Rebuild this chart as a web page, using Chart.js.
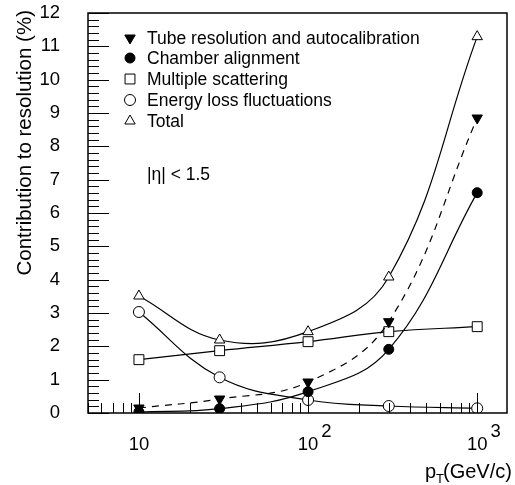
<!DOCTYPE html>
<html>
<head>
<meta charset="utf-8">
<script src="https://cdn.jsdelivr.net/npm/chart.js@4.4.1/dist/chart.umd.min.js"></script>
<style>
  html, body { margin: 0; padding: 0; background: #fff; }
</style>
</head>
<body>
<canvas id="resolution-chart" width="515" height="485"></canvas>
<script>
// DATA
const ptValues = [10, 30, 100, 300, 1000];
const tubeResolution = [0.15, 0.42, 0.93, 2.74, 8.85];
const chamberAlignment = [0.03, 0.13, 0.64, 1.91, 6.61];
const multipleScattering = [1.6, 1.87, 2.14, 2.44, 2.59];
const energyLoss = [3.03, 1.07, 0.39, 0.21, 0.14];
const totalResolution = [3.51, 2.19, 2.44, 4.08, 11.29];

const yTickValues = [0, 1, 2, 3, 4, 5, 6, 7, 8, 9, 10, 11, 12];
const xTickValues = [10, 100, 1000];
const xTickBase = ['10', '10', '10'];
const xTickExp = ['', '2', '3'];

const FONT = "'Liberation Sans', Arial, Helvetica, sans-serif";

const pts = (ys) => ptValues.map((x, i) => ({ x: x, y: ys[i] }));

function series(label, ys, style, filled, rotation, radius, dashed) {
  return {
    label: label,
    data: pts(ys),
    borderColor: '#000',
    borderWidth: 1.2,
    borderDash: dashed ? [7, 6] : [],
    tension: 0.4,
    fill: false,
    pointStyle: style,
    pointRotation: rotation,
    pointRadius: radius,
    pointBackgroundColor: filled ? '#000' : '#fff',
    pointBorderColor: '#000',
    pointBorderWidth: 1,
  };
}

// frame, ticks, labels, titles and legend in the ROOT look
const rootAxes = {
  id: 'rootAxes',
  afterDraw(chart) {
    const ctx = chart.ctx;
    const a = chart.chartArea;
    const xs = chart.scales.x;
    const ys = chart.scales.y;
    ctx.save();
    ctx.strokeStyle = '#000';
    ctx.fillStyle = '#000';

    // box
    ctx.lineWidth = 1.5;
    ctx.strokeRect(a.left, a.top, a.right - a.left, a.bottom - a.top);

    // y ticks
    ctx.lineWidth = 1;
    ctx.beginPath();
    for (let v = 0; v <= 12.001; v += 0.2) {
      const y = Math.round(ys.getPixelForValue(v)) + 0.5;
      const major = Math.abs(v - Math.round(v)) < 0.01;
      ctx.moveTo(a.left, y);
      ctx.lineTo(a.left + (major ? 21 : 11), y);
    }
    // x ticks
    for (let dec = 1; dec <= 1000; dec *= 10) {
      for (let m = 1; m <= 9; m++) {
        const v = dec * m;
        if (v < xs.min || v > xs.max) continue;
        const x = Math.round(xs.getPixelForValue(v)) + 0.5;
        ctx.moveTo(x, a.bottom);
        ctx.lineTo(x, a.bottom - (m === 1 ? 20 : 10));
      }
    }
    ctx.stroke();

    // y tick labels
    ctx.font = '18.5px ' + FONT;
    ctx.textAlign = 'right';
    ctx.textBaseline = 'middle';
    yTickValues.forEach(v => {
      ctx.fillText(String(v), a.left - 28, ys.getPixelForValue(v));
    });

    // x tick labels with exponents
    xTickValues.forEach((v, i) => {
      const x = xs.getPixelForValue(v);
      ctx.font = '18.5px ' + FONT;
      ctx.textAlign = 'center';
      ctx.textBaseline = 'alphabetic';
      const w = ctx.measureText(xTickBase[i]).width;
      ctx.fillText(xTickBase[i], x, a.bottom + 37);
      if (xTickExp[i]) {
        ctx.textAlign = 'left';
        ctx.fillText(xTickExp[i], x + w / 2 + 3, a.bottom + 24);
      }
    });

    // axis titles
    ctx.font = '20px ' + FONT;
    ctx.textAlign = 'left';
    ctx.textBaseline = 'alphabetic';
    ctx.fillText('p', 425, 478);
    ctx.font = '13px ' + FONT;
    ctx.fillText('T', 436, 483);
    ctx.font = '20px ' + FONT;
    ctx.fillText('(GeV/c)', 443, 478);

    ctx.save();
    ctx.translate(31, 10);
    ctx.rotate(-Math.PI / 2);
    ctx.textAlign = 'right';
    ctx.textBaseline = 'alphabetic';
    ctx.font = '20.5px ' + FONT;
    ctx.fillText('Contribution to resolution (%)', 0, 0);
    ctx.restore();

    // legend
    const rowY = [38, 58, 79, 100, 121];
    chart.data.datasets.forEach((ds, i) => {
      ctx.fillStyle = ds.pointBackgroundColor;
      Chart.helpers.drawPoint(ctx, {
        pointStyle: ds.pointStyle,
        radius: ds.pointRadius,
        rotation: ds.pointRotation,
        borderWidth: 1,
      }, 130, rowY[i]);
      ctx.fillStyle = '#000';
      ctx.font = '17.5px ' + FONT;
      ctx.textAlign = 'left';
      ctx.textBaseline = 'middle';
      ctx.fillText(ds.label, 147, rowY[i] + 1);
    });
    ctx.fillText('|\u03b7| < 1.5', 147, 175);

    ctx.restore();
  }
};

const ctx = document.getElementById('resolution-chart').getContext('2d');

const chart = new Chart(ctx, {
  type: 'line',
  data: {
    datasets: [
      series('Tube resolution and autocalibration', tubeResolution, 'triangle', true, 180, 6, true),
      series('Chamber alignment', chamberAlignment, 'circle', true, 0, 5, false),
      series('Multiple scattering', multipleScattering, 'rect', false, 0, 7, false),
      series('Energy loss fluctuations', energyLoss, 'circle', false, 0, 5.5, false),
      series('Total', totalResolution, 'triangle', false, 0, 6, false),
    ]
  },
  options: {
    responsive: false,
    animation: false,
    devicePixelRatio: 1,
    layout: { padding: { left: 88, right: 7, top: 13, bottom: 72 } },
    plugins: { legend: { display: false }, tooltip: { enabled: false } },
    scales: {
      x: { type: 'logarithmic', min: 5, max: 1500, display: false },
      y: { type: 'linear', min: 0, max: 12, display: false },
    }
  },
  plugins: [rootAxes]
});
</script>
</body>
</html>
